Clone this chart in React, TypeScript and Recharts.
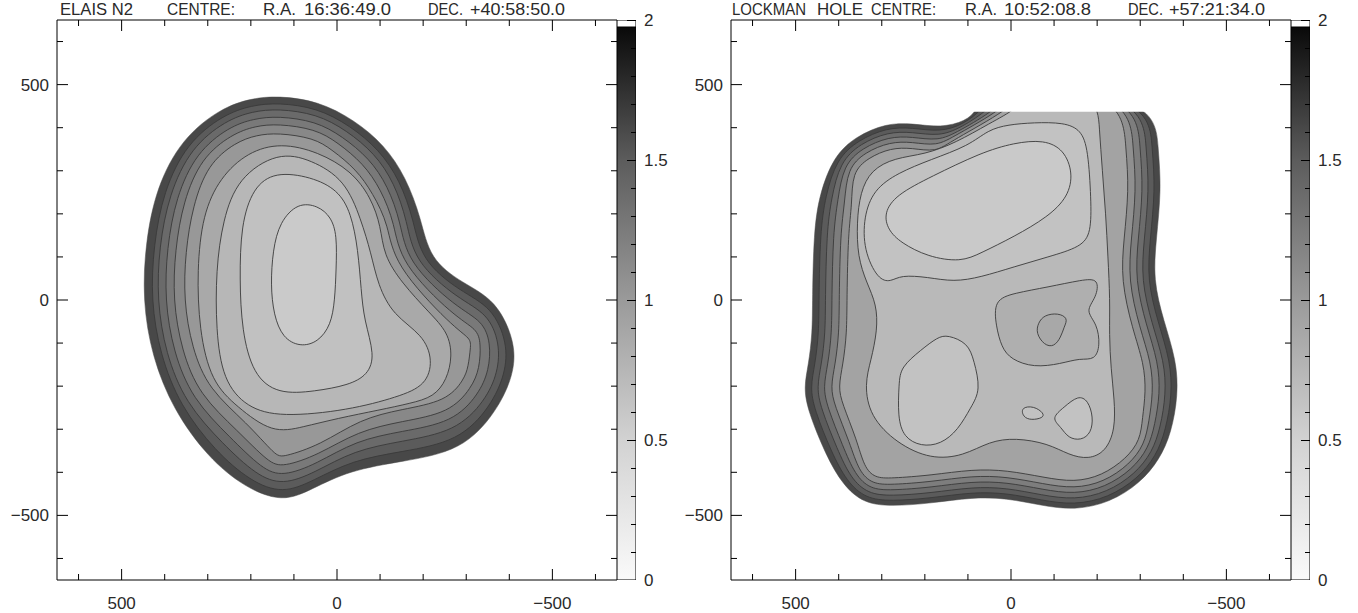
import React from 'react';
import { ScatterChart, Scatter, XAxis, YAxis } from 'recharts';

// ---- ticks ----
const mapTicks = [-600, -500, -400, -300, -200, -100, 0, 100, 200, 300, 400, 500, 600];
const mapLabelled = [-500, 0, 500];
const barTicks = [0, 0.1, 0.2, 0.3, 0.4, 0.5, 0.6, 0.7, 0.8, 0.9, 1, 1.1, 1.2, 1.3, 1.4, 1.5, 1.6, 1.7, 1.8, 1.9, 2];
const barLabelled = [0, 0.5, 1, 1.5, 2];
const barRange = [0, 2];
const barTop = 1.975; // values above this are drawn white

// ---- titles ----
const elaisTitle = ['ELAIS N2', 'CENTRE:', 'R.A.', '16:36:49.0', 'DEC.', '+40:58:50.0'];
const lockmanTitle = ['LOCKMAN', 'HOLE', 'CENTRE:', 'R.A.', '10:52:08.8', 'DEC.', '+57:21:34.0'];

// ---- ELAIS N2 contours (x, y offsets), outer edge first ----
const elaisEdge = [[137,474],[44,462],[-40,418],[-110,360],[-160,285],[-195,190],[-215,95],[-290,40],[-370,0],[-415,-100],[-410,-175],[-370,-260],[-290,-350],[-150,-375],[-30,-395],[60,-440],[126,-470],[215,-435],[300,-365],[380,-255],[430,-130],[451,0],[445,130],[420,260],[360,375],[270,445],[200,468]];
const elaisK1 = [[137,458],[46,446],[-30,405],[-98,349],[-146,278],[-178,186],[-195,92],[-286,20],[-360,-16],[-396,-100],[-391,-171],[-357,-247],[-283,-328],[-150,-352],[-35,-372],[56,-420],[126,-450],[201,-421],[283,-350],[364,-246],[411,-126],[432,0],[426,126],[403,252],[349,364],[264,430],[198,452]];
const elaisK2 = [[137,444],[47,432],[-22,394],[-88,340],[-133,272],[-163,183],[-178,90],[-282,2],[-350,-31],[-378,-100],[-374,-168],[-344,-234],[-276,-305],[-150,-328],[-39,-349],[52,-401],[126,-430],[187,-407],[265,-334],[352,-239],[398,-123],[418,0],[413,123],[390,245],[339,354],[258,417],[196,438]];
const elaisK3 = [[137,427],[49,415],[-12,380],[-75,329],[-118,265],[-148,180],[-162,88],[-278,-18],[-338,-48],[-357,-100],[-353,-163],[-329,-219],[-269,-284],[-150,-305],[-44,-326],[48,-381],[126,-410],[173,-393],[248,-319],[336,-230],[380,-120],[400,0],[395,120],[374,238],[327,342],[251,402],[193,421]];
const elaisK4 = [[137,409],[50,397],[-1,366],[-61,317],[-102,257],[-134,177],[-146,86],[-274,-40],[-325,-67],[-334,-100],[-331,-159],[-313,-203],[-262,-262],[-150,-282],[-49,-304],[44,-360],[126,-388],[158,-378],[230,-304],[320,-220],[361,-116],[381,0],[376,116],[357,229],[315,330],[244,385],[190,404]];
const elaisK5 = [[137,388],[53,376],[12,349],[-45,303],[-83,248],[-120,174],[-130,84],[-270,-64],[-311,-89],[-310,-110],[-305,-154],[-295,-185],[-254,-235],[-150,-254],[-54,-276],[39,-337],[126,-365],[142,-362],[209,-285],[298,-208],[337,-111],[356,0],[352,111],[335,218],[300,315],[236,366],[187,383]];
const elaisK6 = [[130,365],[44,344],[-33,300],[-79,238],[-102,170],[-108,105],[-150,40],[-215,-30],[-258,-75],[-268,-130],[-255,-185],[-225,-225],[-170,-240],[-100,-255],[0,-275],[80,-295],[150,-310],[232,-248],[292,-190],[320,-70],[325,70],[312,198],[272,284],[207,344]];
const elaisK7 = [[137,344],[60,326],[-19,279],[-56,186],[-79,109],[-95,35],[-130,-35],[-200,-81],[-223,-140],[-207,-198],[-142,-225],[-26,-256],[130,-272],[210,-250],[265,-186],[281,-70],[281,70],[265,186],[230,284]];
const elaisK8 = [[144,298],[60,286],[-2,256],[-33,202],[-49,116],[-56,23],[-63,-47],[-88,-128],[-72,-174],[-26,-198],[51,-212],[137,-219],[195,-174],[221,-70],[226,47],[223,174],[195,261]];
const elaisK9 = [[91,226],[44,219],[14,193],[0,151],[2,70],[5,0],[14,-58],[44,-98],[86,-109],[126,-88],[147,-35],[154,35],[149,116],[133,181]];

// ---- Lockman Hole contours ----
const lockmanEdge = [[65,480],[-332,480],[-342,349],[-349,256],[-337,140],[-330,47],[-354,-47],[-384,-140],[-388,-221],[-372,-309],[-345,-370],[-300,-425],[-230,-470],[-147,-488],[-70,-477],[10,-460],[90,-458],[186,-472],[279,-479],[342,-472],[390,-430],[430,-360],[472,-256],[481,-202],[470,-150],[461,-77],[461,0],[458,156],[445,245],[412,333],[360,380],[290,410],[230,410],[163,400],[105,415],[80,440]];
const lockmanR1 = [[-318,480],[-328,349],[-335,256],[-323,140],[-316,47],[-341,-51],[-370,-141],[-374,-220],[-359,-303],[-337,-362],[-294,-415],[-226,-459],[-147,-476],[-71,-465],[10,-448],[90,-446],[186,-460],[279,-467],[337,-461],[381,-422],[417,-353],[457,-253],[466,-202],[455,-150],[446,-77],[446,0],[443,156],[431,241],[405,327],[355,371],[288,400],[230,400],[165,390],[111,407],[63,445],[45,480]];
const lockmanR2 = [[-304,480],[-314,349],[-321,256],[-309,140],[-302,47],[-327,-55],[-356,-143],[-360,-218],[-347,-296],[-328,-353],[-288,-404],[-223,-447],[-147,-464],[-72,-453],[10,-436],[90,-434],[186,-448],[279,-455],[332,-450],[372,-414],[403,-347],[442,-250],[451,-202],[440,-150],[431,-77],[431,0],[428,156],[417,236],[397,320],[350,363],[286,390],[230,390],[167,380],[117,399],[47,445],[28,480]];
const lockmanR3 = [[-290,480],[-300,349],[-307,256],[-295,140],[-288,47],[-314,-59],[-342,-144],[-346,-217],[-334,-290],[-319,-344],[-282,-393],[-219,-435],[-147,-451],[-74,-440],[10,-423],[90,-421],[186,-435],[279,-442],[327,-439],[362,-406],[390,-340],[427,-247],[436,-202],[425,-150],[416,-77],[416,0],[413,156],[402,232],[389,313],[345,353],[284,379],[230,379],[169,369],[124,390],[30,445],[10,480]];
const lockmanR4 = [[-274,480],[-284,349],[-291,256],[-279,140],[-272,47],[-298,-63],[-326,-146],[-330,-215],[-320,-283],[-310,-335],[-275,-382],[-215,-423],[-147,-438],[-75,-427],[10,-410],[90,-408],[186,-422],[279,-429],[322,-427],[353,-398],[374,-332],[410,-244],[419,-202],[408,-150],[399,-77],[399,0],[396,156],[386,226],[380,305],[339,343],[281,367],[230,367],[172,357],[131,381],[16,445],[-4,480]];
const lockmanR5 = [[-257,480],[-267,349],[-274,256],[-262,140],[-255,47],[-282,-68],[-309,-148],[-313,-214],[-305,-275],[-300,-325],[-268,-368],[-211,-408],[-147,-423],[-77,-412],[10,-395],[90,-393],[186,-407],[279,-414],[316,-413],[341,-388],[358,-324],[392,-240],[401,-202],[390,-150],[381,-77],[381,0],[378,156],[369,221],[369,296],[332,330],[279,353],[230,353],[174,343],[139,369],[0,445],[-20,480]];
const lockmanC7 = [[-40,480],[-16,445],[50,410],[128,365],[200,338],[270,330],[325,302],[350,250],[358,180],[356,100],[335,40],[312,-10],[310,-70],[325,-140],[340,-195],[328,-270],[265,-333],[186,-370],[110,-362],[50,-328],[-10,-320],[-86,-333],[-135,-360],[-180,-370],[-220,-352],[-242,-300],[-240,-230],[-232,-160],[-228,-80],[-230,0],[-225,100],[-220,200],[-212,300],[-205,400],[-200,480]];
const lockmanPocket = [[40,0],[35,-60],[22,-110],[0,-138],[-53,-157],[-116,-148],[-160,-135],[-195,-140],[-207,-105],[-200,-55],[-172,-25],[-198,5],[-205,50],[-165,47],[-86,30],[-7,16]];
const lockmanSpot = [[-77,-35],[-109,-30],[-133,-42],[-123,-63],[-116,-86],[-100,-109],[-77,-105],[-58,-77],[-63,-53]];
const lockmanU2 = [[342,116],[342,193],[319,256],[263,295],[186,326],[98,358],[53,395],[7,407],[-53,412],[-123,412],[-163,395],[-179,349],[-186,233],[-186,156],[-163,123],[-86,100],[-7,77],[70,53],[133,42],[193,53],[256,58],[279,42],[309,47]];
const lockmanU1 = [[295,202],[267,244],[186,286],[70,342],[-7,365],[-77,372],[-123,349],[-144,295],[-133,240],[-86,193],[-7,147],[70,109],[116,88],[193,100],[256,133],[286,163]];
const lockmanL1 = [[147,-81],[100,-100],[86,-140],[70,-209],[93,-249],[123,-302],[163,-335],[209,-340],[249,-319],[263,-272],[260,-193],[256,-156],[209,-116],[170,-86]];
const lockmanT = [[-156,-221],[-179,-233],[-191,-272],[-186,-309],[-163,-326],[-133,-321],[-116,-295],[-93,-274],[-123,-249]];
const lockmanS = [[-23,-249],[-53,-246],[-77,-263],[-74,-274],[-47,-279],[-28,-272]];
// survey coverage stops at the top of the Lockman field
const lockmanCut = [[110,437],[-380,437],[-380,600],[110,600]];

const LINE = '#3a3a3a';
const FONT = '"Liberation Sans", Arial, sans-serif';
const TXT = '#2a2a2a';

const elaisLayers = [
  { data: elaisEdge, fill: '#484848', line: false },
  { data: elaisK1, fill: '#5b5b5b', line: true },
  { data: elaisK2, fill: '#6a6a6a', line: true },
  { data: elaisK3, fill: '#797979', line: true },
  { data: elaisK4, fill: '#888888', line: true },
  { data: elaisK5, fill: '#989898', line: true },
  { data: elaisK6, fill: '#a9a9a9', line: true },
  { data: elaisK7, fill: '#b7b7b7', line: true },
  { data: elaisK8, fill: '#c1c1c1', line: true },
  { data: elaisK9, fill: '#cacaca', line: true },
];

const lockmanLayers = [
  { data: lockmanEdge, fill: '#484848', line: false },
  { data: lockmanR1, fill: '#5b5b5b', line: true },
  { data: lockmanR2, fill: '#6c6c6c', line: true },
  { data: lockmanR3, fill: '#7d7d7d', line: true },
  { data: lockmanR4, fill: '#8f8f8f', line: true },
  { data: lockmanR5, fill: '#a3a3a3', line: true },
  { data: lockmanC7, fill: '#b9b9b9', line: true },
  { data: lockmanPocket, fill: '#afafaf', line: true },
  { data: lockmanSpot, fill: '#a8a8a8', line: true },
  { data: lockmanU2, fill: '#c2c2c2', line: true },
  { data: lockmanU1, fill: '#c9c9c9', line: true },
  { data: lockmanL1, fill: '#c2c2c2', line: true },
  { data: lockmanT, fill: '#c2c2c2', line: true },
  { data: lockmanS, fill: '#c2c2c2', line: true },
];

const elaisTitleLayout = [[60, 73], [167, 68], [263, 33], [304, 87], [428, 35], [470, 95]];
const lockmanTitleLayout = [[58, 74], [143, 46], [197, 65], [291, 32], [330, 87], [454, 35], [495, 96]];

const toPts = (d: number[][]) => d.map(([x, y]) => ({ x, y }));
const fmt = (v: number) => (v < 0 ? '\u2212' + Math.abs(v) : String(v));
const noDot = () => <g />;

// colour bar drawn as a polygon over its value range, in bar units (x 0..1)
const barBody = toPts([[0, barRange[0]], [1, barRange[0]], [1, barRange[1]], [0, barRange[1]]]);
const barCap = toPts([[0, barTop], [1, barTop], [1, barRange[1]], [0, barRange[1]]]);

const MAJOR = 11;
const MINOR = 6;

function BottomTick({ x, y, payload }: any) {
  const major = mapLabelled.includes(payload.value);
  return (
    <g>
      <line x1={x} x2={x} y1={y} y2={y - (major ? MAJOR : MINOR)} stroke="#000" />
      {major && (
        <text x={x} y={y + 29} textAnchor="middle" fontSize={17} fontFamily={FONT} fill={TXT}>
          {fmt(payload.value)}
        </text>
      )}
    </g>
  );
}

function TopTick({ x, y, payload }: any) {
  const major = mapLabelled.includes(payload.value);
  return <line x1={x} x2={x} y1={y} y2={y + (major ? MAJOR : MINOR)} stroke="#000" />;
}

function LeftTick({ x, y, payload }: any) {
  const major = mapLabelled.includes(payload.value);
  return (
    <g>
      <line x1={x} x2={x + (major ? MAJOR : MINOR)} y1={y} y2={y} stroke="#000" />
      {major && (
        <text x={x - 8} y={y} dy="0.35em" textAnchor="end" fontSize={17} fontFamily={FONT} fill={TXT}>
          {fmt(payload.value)}
        </text>
      )}
    </g>
  );
}

function RightTick({ x, y, payload }: any) {
  const major = mapLabelled.includes(payload.value);
  return <line x1={x} x2={x - (major ? MAJOR : MINOR)} y1={y} y2={y} stroke="#000" />;
}

function BarLabel({ x, y, payload }: any) {
  if (!barLabelled.includes(payload.value)) return <g />;
  return (
    <text x={x + 8} y={y} dy="0.35em" textAnchor="start" fontSize={17} fontFamily={FONT} fill={TXT}>
      {String(payload.value)}
    </text>
  );
}

const axisBase = {
  type: 'number' as const,
  domain: [-650, 650],
  ticks: mapTicks,
  allowDataOverflow: true,
  tickSize: 0,
  tickMargin: 0,
  tickLine: false,
  interval: 0 as const,
  axisLine: { stroke: '#000', strokeWidth: 1 },
};

type Layer = { data: number[][]; fill: string; line: boolean };

function MapPanel({ offset, title, titleLayout, layers, cut, gid }: {
  offset: number; title: string[]; titleLayout: number[][]; layers: Layer[]; cut?: number[][]; gid: string;
}) {
  return (
    <>
      <div style={{ position: 'absolute', left: offset, top: 0 }}>
        <ScatterChart width={680} height={613} margin={{ top: 19, right: 62, bottom: 32, left: 56 }}>
          <XAxis xAxisId="b" orientation="bottom" dataKey="x" reversed height={1} tick={BottomTick} {...axisBase} />
          <XAxis xAxisId="t" orientation="top" dataKey="x" reversed height={1} tick={TopTick} {...axisBase} />
          <YAxis yAxisId="l" orientation="left" dataKey="y" width={1} tick={LeftTick} {...axisBase} />
          <YAxis yAxisId="r" orientation="right" dataKey="y" width={1} tick={RightTick} {...axisBase} />
          {layers.map((l, i) => (
            <Scatter
              key={i}
              xAxisId="b"
              yAxisId="l"
              data={toPts(l.data)}
              isAnimationActive={false}
              shape={noDot}
              legendType="none"
              lineType="joint"
              lineJointType="basisClosed"
              line={{ fill: l.fill, stroke: l.line ? LINE : l.fill, strokeWidth: l.line ? 0.9 : 0.5 }}
            />
          ))}
          {cut && (
            <Scatter
              xAxisId="b"
              yAxisId="l"
              data={toPts(cut)}
              isAnimationActive={false}
              shape={noDot}
              legendType="none"
              lineType="joint"
              lineJointType="linearClosed"
              line={{ fill: '#ffffff', stroke: 'none' }}
            />
          )}
          <Scatter xAxisId="t" yAxisId="r" data={[]} isAnimationActive={false} shape={noDot} legendType="none" />
          <g>
            {title.map((t, i) => (
              <text
                key={t + i}
                x={titleLayout[i][0]}
                y={15}
                fontSize={17}
                fontFamily={FONT}
                fill={TXT}
                textLength={titleLayout[i][1]}
                lengthAdjust="spacingAndGlyphs"
              >
                {t}
              </text>
            ))}
          </g>
        </ScatterChart>
      </div>
      {/* colour bar: body, white cap, then tick marks, all as scatter polygons/lines in draw order */}
      <div style={{ position: 'absolute', left: offset + 600, top: 0 }}>
        <ScatterChart width={80} height={613} margin={{ top: 20, right: 43, bottom: 33, left: 17 }}>
          <defs>
            <linearGradient id={gid} x1="0" y1="0" x2="0" y2="1">
              <stop offset="0%" stopColor="#050505" />
              <stop offset="25%" stopColor="#5c5c5c" />
              <stop offset="50%" stopColor="#9a9a9a" />
              <stop offset="75%" stopColor="#d2d2d2" />
              <stop offset="100%" stopColor="#fafafa" />
            </linearGradient>
          </defs>
          <XAxis type="number" dataKey="x" domain={[0, 1]} hide allowDataOverflow />
          <YAxis
            type="number"
            dataKey="y"
            orientation="right"
            domain={barRange}
            ticks={barTicks}
            width={1}
            tickSize={0}
            tickMargin={0}
            axisLine={false}
            tickLine={false}
            interval={0}
            tick={BarLabel}
            allowDataOverflow
          />
          <Scatter
            data={barBody}
            isAnimationActive={false}
            shape={noDot}
            legendType="none"
            lineType="joint"
            lineJointType="linearClosed"
            line={{ fill: `url(#${gid})`, stroke: '#000', strokeWidth: 1 }}
          />
          <Scatter
            data={barCap}
            isAnimationActive={false}
            shape={noDot}
            legendType="none"
            lineType="joint"
            lineJointType="linearClosed"
            line={{ fill: '#ffffff', stroke: '#000', strokeWidth: 1 }}
          />
          {barTicks.map((v) => (
            <Scatter
              key={v}
              data={[{ x: barLabelled.includes(v) ? 0.5 : 0.72, y: v }, { x: 1, y: v }]}
              isAnimationActive={false}
              shape={noDot}
              legendType="none"
              lineType="joint"
              lineJointType="linear"
              line={{ stroke: '#000', strokeWidth: 1, fill: 'none', shapeRendering: 'crispEdges' }}
            />
          ))}
        </ScatterChart>
      </div>
    </>
  );
}

export default function App() {
  return (
    <div style={{ position: 'absolute', left: 0, top: 0, width: 1358, height: 613, background: '#fff', overflow: 'hidden' }}>
      <MapPanel offset={0} title={elaisTitle} titleLayout={elaisTitleLayout} layers={elaisLayers} gid="cbElais" />
      <MapPanel offset={674} title={lockmanTitle} titleLayout={lockmanTitleLayout} layers={lockmanLayers} cut={lockmanCut} gid="cbLockman" />
    </div>
  );
}
